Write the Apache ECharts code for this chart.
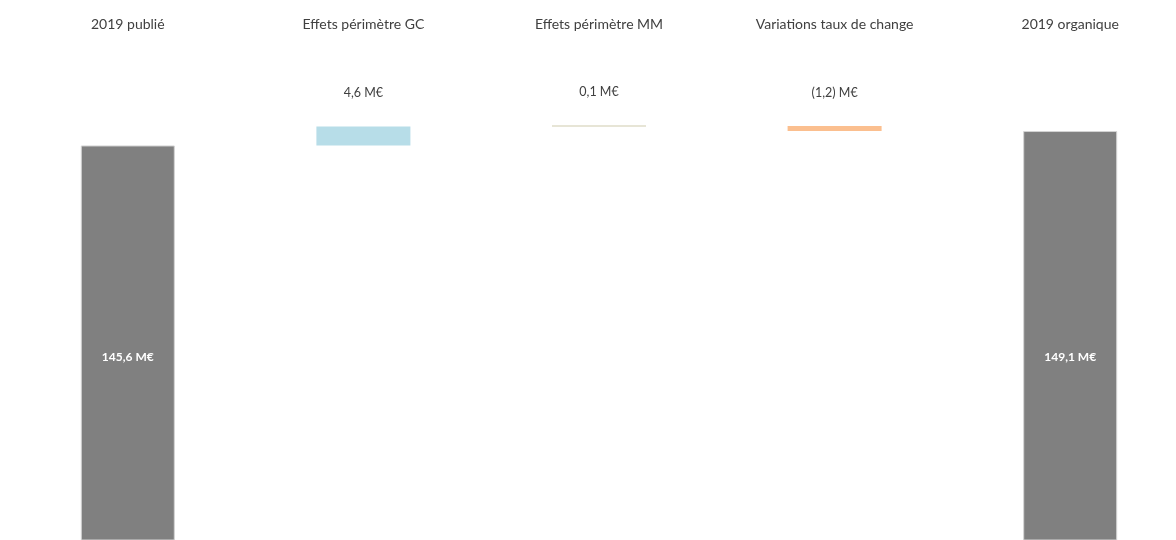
<!DOCTYPE html>
<html>
<head>
<meta charset="utf-8">
<style>
  html, body { margin: 0; padding: 0; background: #fff; overflow: hidden; }
  #chart { width: 1188px; height: 540px; }
</style>
<script src="https://cdn.jsdelivr.net/npm/echarts@6/dist/echarts.min.js"></script>
</head>
<body>
<div id="chart"></div>
<script>
  // categories and values (M€)
  const categories = ['2019 publié', 'Effets périmètre GC', 'Effets périmètre MM', 'Variations taux de change', '2019 organique'];
  const deltas = [145.6, 4.6, 0.1, -1.2, 149.1];
  const isTotal = [true, false, false, false, true];
  const barColors = ['#808080', '#b7dde8', '#cfcbae', '#fbbf8f', '#808080'];

  function fmt(v) {
    let s = Math.abs(v).toFixed(1).replace('.', ',');
    return v < 0 ? '(' + s + ') M€' : s + ' M€';
  }

  // waterfall: invisible base + visible part
  let baseData = [];
  let visData = [];
  let running = 0;
  for (let i = 0; i < deltas.length; i++) {
    let v = deltas[i];
    if (isTotal[i]) {
      baseData.push(0);
      visData.push({
        value: v,
        itemStyle: { color: barColors[i], borderColor: '#d4d4d4', borderWidth: 1 },
        label: {
          show: true, position: 'insideBottom', distance: 177,
          color: '#fff', fontWeight: 'bold', fontSize: 12, formatter: fmt(v)
        }
      });
      running = v;
    } else {
      let low = v >= 0 ? running : running + v;
      baseData.push(low);
      visData.push({
        value: Math.abs(v),
        itemStyle: { color: barColors[i] },
        label: {
          show: true, position: 'top', distance: 27,
          color: '#404040', fontSize: 12.5, formatter: fmt(v)
        }
      });
      running = running + v;
    }
  }

  const chart = echarts.init(document.getElementById('chart'));
  chart.setOption({
    animation: false,
    textStyle: { fontFamily: 'Lato, "Open Sans", sans-serif' },
    grid: { left: 10, top: 3.5, right: 0, bottom: 0, containLabel: false },
    xAxis: {
      type: 'category',
      position: 'top',
      offset: -36,
      data: categories,
      axisLine: { show: false },
      axisTick: { show: false },
      axisLabel: { color: '#404040', fontSize: 14, margin: 8, interval: 0 }
    },
    yAxis: {
      type: 'value',
      min: 50,
      max: 180,
      show: false,
      splitLine: { show: false }
    },
    series: [
      {
        type: 'bar',
        stack: 'w',
        data: baseData,
        barWidth: 94,
        itemStyle: { color: 'transparent' },
        silent: true
      },
      {
        type: 'bar',
        stack: 'w',
        data: visData,
        barWidth: 94,
        barMinHeight: 1
      }
    ]
  });
</script>
</body>
</html>
